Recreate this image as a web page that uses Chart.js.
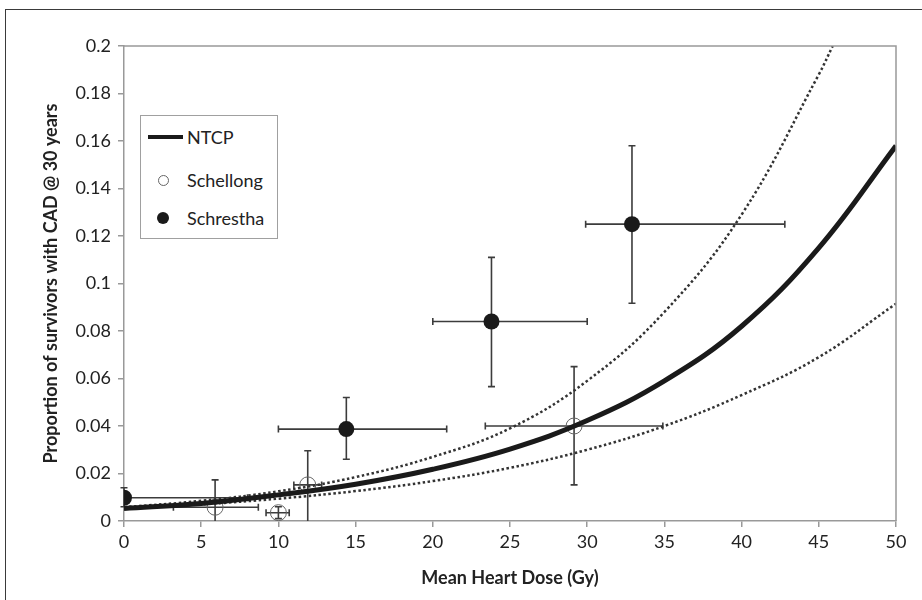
<!DOCTYPE html>
<html>
<head>
<meta charset="utf-8">
<script src="https://cdn.jsdelivr.net/npm/chart.js@4.4.1/dist/chart.umd.min.js"></script>
<style>
    body { margin: 0; background: #fff; overflow: hidden; }
    #wrap { position: relative; width: 922px; height: 600px; }
    #frame { position: absolute; left: 5px; top: 9px; width: 1000px; height: 700px;
             border-left: 1.5px solid #3a3a3a; border-top: 1.5px solid #3a3a3a; }
    #chart { position: absolute; left: 0; top: 0; }
    #legend { position: absolute; left: 140px; top: 115px; width: 136px; height: 122px;
              border: 1px solid #a0a0a0; background: #fff;
              font-family: Lato, sans-serif; font-size: 18px; color: #222; }
    .item { position: absolute; left: 0; height: 22px; line-height: 22px; }
    .item span { position: absolute; left: 46px; top: 0; white-space: nowrap; }
    .sym { position: absolute; }
</style>
</head>
<body>
<div id="wrap">
    <div id="frame"></div>
    <canvas id="chart" width="922" height="600"></canvas>
    <div id="legend">
        <div class="item" style="top:10px"><div class="sym" style="left:7px;top:9px;width:35px;height:4px;background:#1a1a1a"></div><span>NTCP</span></div>
        <div class="item" style="top:53px"><div class="sym" style="left:17px;top:6px;width:9px;height:9px;border:1px solid #666;border-radius:50%"></div><span>Schellong</span></div>
        <div class="item" style="top:91px"><div class="sym" style="left:16px;top:5px;width:12px;height:12px;background:#1a1a1a;border-radius:50%"></div><span>Schrestha</span></div>
    </div>
</div>
<script>
// tick labels
const xTicks = [0, 5, 10, 15, 20, 25, 30, 35, 40, 45, 50];
const yTicks = ['0', '0.02', '0.04', '0.06', '0.08', '0.1', '0.12', '0.14', '0.16', '0.18', '0.2'];

// NTCP model curve + confidence curves
const ntcpDose = [0, 5, 10, 15, 20, 25, 30, 35, 40, 45, 50];
const ntcpProp = [0.0053, 0.0074, 0.0110, 0.0155, 0.0218, 0.0303, 0.0423, 0.0590, 0.0820, 0.115, 0.158];
const upperDose = [0, 5, 10, 15, 20, 25, 30, 35, 40, 45, 45.9];
const upperProp = [0.0058, 0.0085, 0.0125, 0.0185, 0.027, 0.039, 0.059, 0.088, 0.129, 0.188, 0.2];
const lowerDose = [0, 5, 10, 15, 20, 25, 30, 35, 40, 45, 50];
const lowerProp = [0.0052, 0.0070, 0.0094, 0.0126, 0.0168, 0.0224, 0.030, 0.040, 0.053, 0.069, 0.0915];

// Schellong (open circles)
const schelDose   = [5.9, 10, 11.9, 29.15];
const schelProp   = [0.0058, 0.0035, 0.0152, 0.040];
const schelDoseLo = [3.2, 9.2, 11.0, 23.4];
const schelDoseHi = [8.7, 10.7, 12.8, 34.9];
const schelPropLo = [0, 0.001, 0, 0.0152];
const schelPropHi = [0.0173, 0.006, 0.0296, 0.065];

// Schrestha (filled circles)
const schrDose   = [0, 14.4, 23.8, 32.9];
const schrProp   = [0.0098, 0.0387, 0.084, 0.125];
const schrDoseLo = [0, 10, 20, 29.9];
const schrDoseHi = [8, 20.9, 30, 42.8];
const schrPropLo = [0.006, 0.026, 0.0566, 0.0917];
const schrPropHi = [0.014, 0.052, 0.111, 0.158];

function pts(xs, ys) {
    return xs.map((x, i) => ({ x: x, y: ys[i] }));
}

const errorBars = {
    id: 'errorBars',
    beforeDatasetsDraw(chart) {
        const ctx = chart.ctx;
        const xs = chart.scales.x, ys = chart.scales.y;
        const cap = 3.5;
        function draw(dose, prop, dLo, dHi, pLo, pHi) {
            for (let i = 0; i < dose.length; i++) {
                const px = xs.getPixelForValue(dose[i]);
                const py = ys.getPixelForValue(prop[i]);
                const x1 = xs.getPixelForValue(dLo[i]), x2 = xs.getPixelForValue(dHi[i]);
                const y1 = ys.getPixelForValue(pLo[i]), y2 = ys.getPixelForValue(pHi[i]);
                ctx.beginPath();
                ctx.moveTo(x1, py); ctx.lineTo(x2, py);
                ctx.moveTo(px, y1); ctx.lineTo(px, y2);
                if (dLo[i] > 0) { ctx.moveTo(x1, py - cap); ctx.lineTo(x1, py + cap); }
                ctx.moveTo(x2, py - cap); ctx.lineTo(x2, py + cap);
                ctx.moveTo(px - cap, y2); ctx.lineTo(px + cap, y2);
                if (pLo[i] > 0) { ctx.moveTo(px - cap, y1); ctx.lineTo(px + cap, y1); }
                ctx.stroke();
            }
        }
        ctx.save();
        ctx.strokeStyle = '#3c3c3c';
        ctx.lineWidth = 1.6;
        draw(schelDose, schelProp, schelDoseLo, schelDoseHi, schelPropLo, schelPropHi);
        draw(schrDose, schrProp, schrDoseLo, schrDoseHi, schrPropLo, schrPropHi);
        ctx.restore();
    },
    afterDraw(chart) {
        // grey frame on top and right of plot area
        const a = chart.chartArea, ctx = chart.ctx;
        ctx.save();
        ctx.strokeStyle = '#999';
        ctx.lineWidth = 1.5;
        ctx.beginPath();
        ctx.moveTo(a.left, a.top); ctx.lineTo(a.right, a.top); ctx.lineTo(a.right, a.bottom);
        ctx.stroke();
        ctx.restore();
    }
};

const font = { family: 'Lato, sans-serif', size: 18 };

new Chart(document.getElementById('chart'), {
    type: 'scatter',
    data: {
        datasets: [{
            label: 'Schellong',
            data: pts(schelDose, schelProp),
            pointRadius: 8,
            pointBackgroundColor: 'rgba(0,0,0,0)',
            pointBorderColor: '#666',
            pointBorderWidth: 1,
            order: 3
        }, {
            label: 'Schrestha',
            data: pts(schrDose, schrProp),
            pointRadius: 8,
            pointBackgroundColor: '#1a1a1a',
            pointBorderColor: '#1a1a1a',
            pointBorderWidth: 0,
            order: 4
        }, {
            label: 'upper',
            type: 'line',
            data: pts(upperDose, upperProp),
            borderColor: '#333',
            borderWidth: 2.5,
            borderDash: [2.5, 2.5],
            pointRadius: 0,
            tension: 0.4,
            order: 2
        }, {
            label: 'lower',
            type: 'line',
            data: pts(lowerDose, lowerProp),
            borderColor: '#333',
            borderWidth: 2.5,
            borderDash: [2.5, 2.5],
            pointRadius: 0,
            tension: 0.4,
            order: 2
        }, {
            label: 'NTCP',
            type: 'line',
            data: pts(ntcpDose, ntcpProp),
            borderColor: '#1a1a1a',
            borderWidth: 5,
            pointRadius: 0,
            tension: 0.4,
            order: 1
        }]
    },
    options: {
        responsive: false,
        animation: false,
        devicePixelRatio: 1,
        layout: { padding: { top: 46, right: 26, bottom: 0, left: 0 } },
        plugins: {
            legend: { display: false },
            tooltip: { enabled: false }
        },
        scales: {
            x: {
                type: 'linear',
                min: 0, max: 50,
                afterBuildTicks: s => { s.ticks = xTicks.map(v => ({ value: v })); },
                afterFit: s => { s.height = 79; },
                ticks: { font: font, color: '#222', padding: 4, maxRotation: 0 },
                grid: { drawOnChartArea: false, drawTicks: true, tickLength: 6, color: '#999', lineWidth: 1.5 },
                border: { display: true, color: '#999', width: 1.5 },
                title: { display: true, text: 'Mean Heart Dose (Gy)', color: '#222',
                         font: { family: 'Lato, sans-serif', size: 18, weight: 'bold' }, padding: { top: 0, bottom: 11 } }
            },
            y: {
                type: 'linear',
                min: 0, max: 0.2,
                afterBuildTicks: s => { s.ticks = yTicks.map(v => ({ value: parseFloat(v) })); },
                afterFit: s => { s.width = 124; },
                ticks: { font: font, color: '#222', padding: 7, callback: (v, i) => yTicks[i] },
                grid: { drawOnChartArea: false, drawTicks: true, tickLength: 6, color: '#999', lineWidth: 1.5 },
                border: { display: true, color: '#999', width: 1.5 },
                title: { display: true, text: 'Proportion of survivors with CAD @ 30 years', color: '#222',
                         font: { family: 'Lato, sans-serif', size: 18, weight: 'bold' }, padding: { top: 40, bottom: 0 } }
            }
        }
    },
    plugins: [errorBars]
});
</script>
</body>
</html>
